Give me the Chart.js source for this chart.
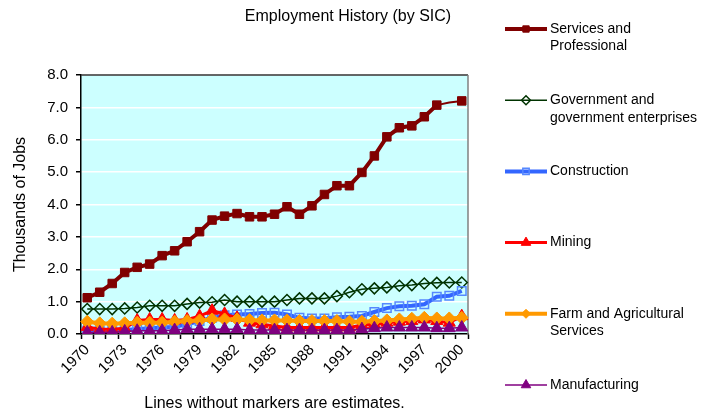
<!DOCTYPE html>
<html>
<head>
<meta charset="utf-8">
<title>Employment History (by SIC)</title>
<script src="https://cdn.jsdelivr.net/npm/chart.js@4.4.1/dist/chart.umd.min.js"></script>
<style>
    html, body { margin: 0; padding: 0; background: #fff; }
    #employmentChart { display: block; }
</style>
</head>
<body>
<div style="width:705px;height:414px;position:relative;">
    <canvas id="employmentChart"></canvas>
</div>
<script>
//#region Data
const years = [
    "1970", "1971", "1972", "1973", "1974", "1975", "1976", "1977", "1978", "1979",
    "1980", "1981", "1982", "1983", "1984", "1985", "1986", "1987", "1988", "1989",
    "1990", "1991", "1992", "1993", "1994", "1995", "1996", "1997", "1998", "1999", "2000"
];

const services = [
    1.12, 1.29, 1.56, 1.90, 2.06, 2.16, 2.42, 2.57, 2.85, 3.16,
    3.52, 3.64, 3.72, 3.62, 3.62, 3.70, 3.93, 3.70, 3.96, 4.31,
    4.58, 4.58, 4.99, 5.50, 6.09, 6.37, 6.43, 6.71, 7.07, 7.15, 7.20
];
const servicesEstimated = [29];

const government = [
    0.77, 0.77, 0.77, 0.79, 0.82, 0.87, 0.87, 0.87, 0.93, 0.97,
    0.98, 1.05, 1.00, 1.00, 1.00, 1.00, 1.05, 1.10, 1.10, 1.10,
    1.17, 1.29, 1.38, 1.41, 1.44, 1.49, 1.51, 1.56, 1.58, 1.59, 1.59
];

const construction = [
    0.10, 0.10, 0.10, 0.12, 0.15, 0.18, 0.20, 0.22, 0.30, 0.40,
    0.50, 0.58, 0.60, 0.62, 0.65, 0.66, 0.60, 0.50, 0.48, 0.48,
    0.52, 0.53, 0.56, 0.68, 0.80, 0.86, 0.87, 0.92, 1.15, 1.18, 1.33
];

const mining = [
    0.22, 0.15, 0.15, 0.18, 0.42, 0.45, 0.45, 0.42, 0.45, 0.55,
    0.72, 0.62, 0.50, 0.35, 0.30, 0.25, 0.20, 0.20, 0.20, 0.20,
    0.20, 0.20, 0.28, 0.30, 0.35, 0.38, 0.40, 0.45, 0.40, 0.35, 0.55
];

const farm = [
    0.38, 0.33, 0.32, 0.33, 0.35, 0.35, 0.35, 0.38, 0.40, 0.42,
    0.45, 0.45, 0.45, 0.43, 0.42, 0.42, 0.42, 0.40, 0.40, 0.40,
    0.40, 0.38, 0.38, 0.40, 0.42, 0.45, 0.47, 0.50, 0.48, 0.48, 0.50
];

const manufacturing = [
    0.05, 0.05, 0.05, 0.08, 0.10, 0.10, 0.10, 0.12, 0.15, 0.15,
    0.15, 0.15, 0.15, 0.12, 0.12, 0.12, 0.12, 0.12, 0.12, 0.12,
    0.12, 0.12, 0.15, 0.18, 0.20, 0.20, 0.20, 0.20, 0.18, 0.18, 0.20
];

const seriesNames = [
    ["Services and", "Professional"],
    ["Government and", "government enterprises"],
    ["Construction"],
    ["Mining"],
    ["Farm and Agricultural", "Services"],
    ["Manufacturing"]
];

const yTickValues = [0, 1, 2, 3, 4, 5, 6, 7, 8];
//#endregion

//#region Plugins
const FONT = "'Liberation Sans', Arial, sans-serif";

const plotBackground = {
    id: "plotBackground",
    beforeDraw(chart) {
        const { ctx, chartArea: a } = chart;
        ctx.save();
        ctx.fillStyle = "#CCFFFF";
        ctx.fillRect(a.left, a.top, a.right - a.left, a.bottom - a.top);
        ctx.restore();
    },
    beforeDatasetsDraw(chart) {
        const { ctx, chartArea: a } = chart;
        ctx.save();
        ctx.lineWidth = 1.5;
        ctx.strokeStyle = "#333";
        ctx.beginPath();
        ctx.moveTo(a.left, a.top);
        ctx.lineTo(a.right, a.top);
        ctx.stroke();
        ctx.strokeStyle = "#808080";
        ctx.beginPath();
        ctx.moveTo(a.right, a.top);
        ctx.lineTo(a.right, a.bottom);
        ctx.stroke();
        ctx.restore();
    }
};

const sideLegend = {
    id: "sideLegend",
    afterDraw(chart) {
        const { ctx } = chart;
        ctx.save();
        // chart title
        ctx.fillStyle = "#000";
        ctx.font = "16px " + FONT;
        ctx.textAlign = "center";
        ctx.textBaseline = "middle";
        ctx.fillText("Employment History (by SIC)", 348, 17);

        // legend on the right
        ctx.font = "14px " + FONT;
        ctx.textAlign = "left";
        chart.data.datasets.forEach((ds, i) => {
            const y = 29 + i * 71.2;
            ctx.strokeStyle = ds.borderColor;
            ctx.lineWidth = ds.borderWidth;
            ctx.beginPath();
            ctx.moveTo(505, y);
            ctx.lineTo(547, y);
            ctx.stroke();

            ctx.fillStyle = ds.pointBackgroundColor;
            ctx.strokeStyle = ds.pointBorderColor;
            ctx.lineWidth = ds.pointBorderWidth;
            Chart.helpers.drawPoint(ctx, {
                pointStyle: ds.pointStyle,
                radius: ds.legendRadius,
                borderWidth: ds.pointBorderWidth,
                rotation: 0
            }, 526, y);

            ctx.fillStyle = "#000";
            seriesNames[i].forEach((line, j) => {
                ctx.fillText(line, 550, y + j * 17.5);
            });
        });
        ctx.restore();
    }
};
//#endregion

//#region On Document Load
window.addEventListener("DOMContentLoaded", () => {
    LoadEmploymentChart();
});
//#endregion

//#region Load Employment Chart
function LoadEmploymentChart() {
    const element = document.querySelector("#employmentChart");
    const markerRadius = (base, estimated) => ctx =>
        estimated.includes(ctx.dataIndex) ? 0 : base;

    const chart = new Chart(element, {
        type: "line",
        data: {
            labels: years,
            datasets: [{
                label: seriesNames[0].join(" "),
                data: services,
                borderColor: "#800000",
                borderWidth: 4,
                pointStyle: "rect",
                pointRadius: markerRadius(6, servicesEstimated),
                legendRadius: 4.5,
                pointBackgroundColor: "#800000",
                pointBorderColor: "#800000",
                pointBorderWidth: 1,
                segment: {
                    borderWidth: ctx => servicesEstimated.includes(ctx.p1DataIndex) ||
                        servicesEstimated.includes(ctx.p0DataIndex) ? 2 : 4
                },
                order: 5
            }, {
                label: seriesNames[1].join(" "),
                data: government,
                borderColor: "#003300",
                borderWidth: 1.5,
                pointStyle: "rectRot",
                pointRadius: 5.5,
                legendRadius: 4.5,
                pointBackgroundColor: "transparent",
                pointBorderColor: "#003300",
                pointBorderWidth: 1.5,
                order: 4
            }, {
                label: seriesNames[2].join(" "),
                data: construction,
                borderColor: "#3366FF",
                borderWidth: 4,
                pointStyle: "rect",
                pointRadius: 6,
                legendRadius: 4.5,
                pointBackgroundColor: "transparent",
                pointBorderColor: "#5588FF",
                pointBorderWidth: 1.5,
                order: 3
            }, {
                label: seriesNames[3].join(" "),
                data: mining,
                borderColor: "#FF0000",
                borderWidth: 3,
                pointStyle: "triangle",
                pointRadius: 7,
                legendRadius: 5.5,
                pointBackgroundColor: "#FF0000",
                pointBorderColor: "#FF0000",
                pointBorderWidth: 1,
                order: 2
            }, {
                label: seriesNames[4].join(" "),
                data: farm,
                borderColor: "#FF9900",
                borderWidth: 4,
                pointStyle: "rectRot",
                pointRadius: 6.5,
                legendRadius: 4.5,
                pointBackgroundColor: "#FF9900",
                pointBorderColor: "#FF9900",
                pointBorderWidth: 1,
                order: 1
            }, {
                label: seriesNames[5].join(" "),
                data: manufacturing,
                borderColor: "#800080",
                borderWidth: 1.5,
                pointStyle: "triangle",
                pointRadius: 7,
                legendRadius: 5.5,
                pointBackgroundColor: "#800080",
                pointBorderColor: "#800080",
                pointBorderWidth: 1,
                order: 0
            }]
        },
        options: {
            responsive: true,
            maintainAspectRatio: false,
            animation: false,
            tension: 0,
            layout: {
                padding: { top: 75, right: 237, bottom: 0, left: 0 }
            },
            scales: {
                x: {
                    offset: true,
                    grid: {
                        offset: true,
                        drawOnChartArea: false,
                        drawTicks: true,
                        tickLength: 5,
                        tickColor: "#000",
                        tickWidth: 1.5
                    },
                    border: { color: "#000", width: 1.5 },
                    ticks: {
                        autoSkip: false,
                        maxRotation: 45,
                        minRotation: 45,
                        padding: 2,
                        color: "#000",
                        font: { family: FONT, size: 15 },
                        callback: (value, index) => index % 3 === 0 ? years[index] : ""
                    },
                    title: {
                        display: true,
                        text: "Lines without markers are estimates.",
                        color: "#000",
                        font: { family: FONT, size: 16 },
                        padding: { top: 0, bottom: 1 }
                    },
                    afterFit: scale => { scale.height = 80; }
                },
                y: {
                    min: 0,
                    max: 8,
                    afterBuildTicks: scale => {
                        scale.ticks = yTickValues.map(v => ({ value: v }));
                    },
                    grid: {
                        color: "#FFFFFF",
                        lineWidth: 1.5,
                        drawTicks: true,
                        tickLength: 5,
                        tickColor: "#000",
                        tickWidth: 1.5
                    },
                    border: { color: "#000", width: 1.5 },
                    ticks: {
                        padding: 8,
                        color: "#000",
                        font: { family: FONT, size: 15 },
                        callback: value => value.toFixed(1)
                    },
                    title: {
                        display: true,
                        text: "Thousands of Jobs",
                        color: "#000",
                        font: { family: FONT, size: 16 },
                        padding: { top: 11, bottom: 0 }
                    },
                    afterFit: scale => { scale.width = 81; }
                }
            },
            plugins: {
                legend: { display: false },
                tooltip: { enabled: false }
            }
        },
        plugins: [plotBackground, sideLegend]
    });
}
//#endregion
</script>
</body>
</html>
